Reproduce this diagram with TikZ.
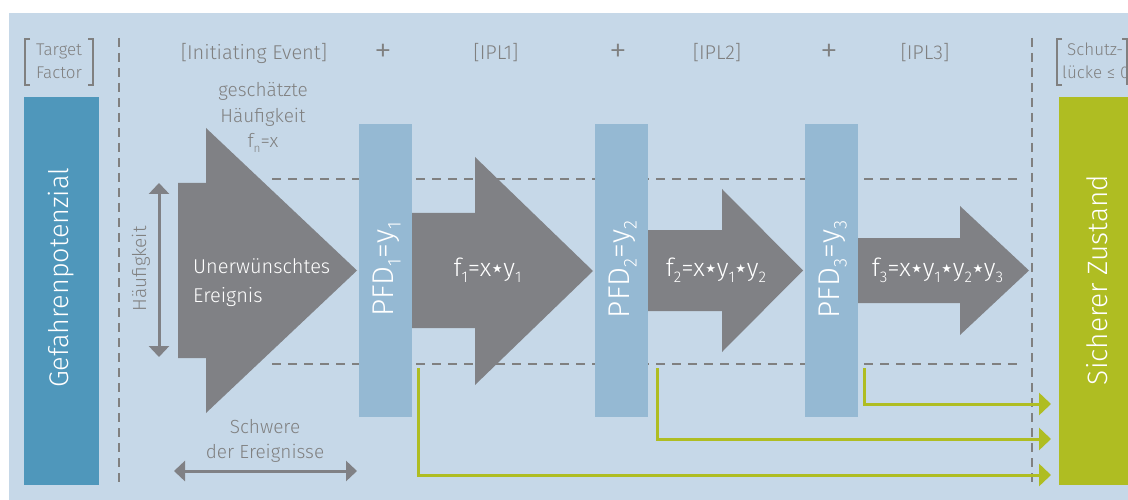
\documentclass[tikz,border=0pt]{standalone}
\usepackage{fontspec}
\setmainfont{Fira Sans}[UprightFont=* Light]
\newfontfamily\symfont{DejaVu Sans}
\usetikzlibrary{arrows.meta}
\definecolor{bgblue}{RGB}{198,216,232}
\definecolor{darkblue}{RGB}{79,151,187}
\definecolor{pfdblue}{RGB}{149,185,211}
\definecolor{arrowgray}{RGB}{128,129,133}
\definecolor{txtgray}{RGB}{128,128,128}
\definecolor{safegreen}{RGB}{175,189,34}
\newcommand{\lsub}[1]{\raisebox{-0.25em}{\scalebox{0.62}{#1}}}
\newcommand{\mstar}{\makebox[0.48em]{\symfont\scalebox{0.95}{⋆}}}
\tikzset{
  vdash/.style={txtgray, line width=2.5pt, dash pattern=on 9pt off 6pt},
  hdash/.style={txtgray, line width=2pt, dash pattern=on 9pt off 7pt},
  bigarrow/.style={fill=arrowgray, draw=none},
  bar/.style={inner sep=0pt, outer sep=0pt, draw=none},
  graytext/.style={text=txtgray, font=\fontsize{19}{23}\selectfont, inner sep=0pt},
  headtext/.style={text=txtgray, font=\fontsize{20}{24}\selectfont, inner sep=0pt, anchor=base},
  plustext/.style={text=txtgray, font=\fontsize{36}{38}\selectfont, inner sep=0pt},
  whitetext/.style={text=white, inner sep=0pt},
  pfdtext/.style={text=white, inner sep=0pt, rotate=90, anchor=base, font=\fontsize{30}{32}\selectfont},
  ftext/.style={text=white, inner sep=0pt, anchor=base, font=\fontsize{25}{28}\selectfont},
  bracket/.style={txtgray, line width=2pt},
  dblarrow/.style={arrowgray, line width=3pt, {Triangle[length=11pt,width=20pt]}-{Triangle[length=11pt,width=20pt]}},
  greenarrow/.style={safegreen, line width=3pt, -{Triangle[length=12pt,width=22pt]}}
}
\begin{document}
\begin{tikzpicture}[x=1pt,y=-1pt]
\useasboundingbox (0,0) rectangle (1128,500);
\clip (0,0) rectangle (1128,500);
\fill[white] (0,0) rectangle (1128,500);
\fill[bgblue] (9,13) rectangle (1140,510);

% dashed guides
\draw[vdash] (119,38) -- (119,486);
\draw[vdash] (1032,38) -- (1032,486);
\draw[hdash] (272,179) -- (1023,179);
\draw[hdash] (272,364) -- (1023,364);

% big arrows
\fill[bigarrow] (178,183) -- (206,183) -- (206,128) -- (357,270.5) -- (206,413) -- (206,358) -- (178,358) -- cycle;
\fill[bigarrow] (412,213) -- (475,213) -- (475,157) -- (593,271) -- (475,385) -- (475,328) -- (412,328) -- cycle;
\fill[bigarrow] (648,230) -- (722,230) -- (722,189) -- (803,270.5) -- (722,352) -- (722,311) -- (648,311) -- cycle;
\fill[bigarrow] (858,238) -- (960,238) -- (960,206) -- (1029,270.5) -- (960,335) -- (960,303) -- (858,303) -- cycle;

% left and right boxes
\node[bar, fill=darkblue, minimum width=75pt, minimum height=388pt] (gef) at (61.5,291) {};
\node[whitetext, rotate=90, font=\fontsize{27}{30}\selectfont] (geftext) at (61,278) {Gefahrenpotenzial};
\node[bar, fill=safegreen, minimum width=90pt, minimum height=388pt, anchor=north west] (safe) at (1059,97) {};
\node[whitetext, rotate=90, font=\fontsize{28}{30}\selectfont] (safetext) at (1097,280) {Sicherer Zustand};

% PFD bars
\node[bar, fill=pfdblue, minimum width=53pt, minimum height=293pt] (pfd1) at (385.5,270.5) {};
\node[bar, fill=pfdblue, minimum width=53pt, minimum height=293pt] (pfd2) at (621.5,270.5) {};
\node[bar, fill=pfdblue, minimum width=53pt, minimum height=293pt] (pfd3) at (831.5,270.5) {};
\node[pfdtext] (pfd1t) at (393,269.5) {PFD\lsub{1}=y\lsub{1}};
\node[pfdtext] (pfd2t) at (629,269.5) {PFD\lsub{2}=y\lsub{2}};
\node[pfdtext] (pfd3t) at (839,269.5) {PFD\lsub{3}=y\lsub{3}};

% arrow labels
\node[whitetext, font=\fontsize{20}{24}\selectfont, anchor=base west] (ue1) at (193,273) {Unerwünschtes};
\node[whitetext, font=\fontsize{20}{24}\selectfont, anchor=base west] (ue2) at (193,302) {Ereignis};
\node[ftext] (f1) at (487.5,276) {f\lsub{1}=x\mstar y\lsub{1}};
\node[ftext] (f2) at (716,276) {f\lsub{2}=x\mstar y\lsub{1}\mstar y\lsub{2}};
\node[ftext] (f3) at (937.5,276) {f\lsub{3}=x\mstar y\lsub{1}\mstar y\lsub{2}\mstar y\lsub{3}};

% header
\draw[bracket] (30,39) -- (25,39) -- (25,85) -- (30,85);
\draw[bracket] (88,39) -- (93,39) -- (93,85) -- (88,85);
\node[graytext, font=\fontsize{17}{20}\selectfont, anchor=base] (tf1) at (59,56) {Target};
\node[graytext, font=\fontsize{17}{20}\selectfont, anchor=base] (tf2) at (59,79) {Factor};
\node[headtext] (ie) at (254,60) {[Initiating Event]};
\node[plustext] (p1) at (383,53) {+};
\node[headtext] (ipl1) at (496,60) {[IPL1]};
\node[plustext] (p2) at (618,53) {+};
\node[headtext] (ipl2) at (717,60) {[IPL2]};
\node[plustext] (p3) at (829,53) {+};
\node[headtext] (ipl3) at (925,60) {[IPL3]};
\draw[bracket] (1062,39) -- (1057,39) -- (1057,85) -- (1062,85);
\draw[bracket] (1122,39) -- (1127,39) -- (1127,85);
\node[graytext, font=\fontsize{17}{20}\selectfont, anchor=base west] (sl1) at (1067,56) {Schutz-};
\node[graytext, font=\fontsize{17}{20}\selectfont, anchor=base west] (sl2) at (1062,79) {lücke ≤ 0};

% side labels
\node[graytext, anchor=base] (gh1) at (263,97) {geschätzte};
\node[graytext, anchor=base] (gh2) at (263,123) {Häufigkeit};
\node[graytext, anchor=base] (gh3) at (263,148) {f\lsub{n}=x};
\node[graytext, anchor=base] (sw1) at (265,433) {Schwere};
\node[graytext, anchor=base] (sw2) at (265,458) {der Ereignisse};
\node[graytext, rotate=90] (hf) at (141,269) {Häufigkeit};

% double arrows
\coordinate (vtop) at (159,183);
\coordinate (vbot) at (159,357);
\coordinate (hl) at (174,471);
\coordinate (hr) at (357,471);
\draw[dblarrow] (vtop) -- (vbot);
\draw[dblarrow] (hl) -- (hr);

% green connectors
\coordinate (g1s) at (418,368);
\coordinate (g1e) at (1051,475);
\coordinate (g2s) at (657,368);
\coordinate (g2e) at (1051,439);
\coordinate (g3s) at (864,368);
\coordinate (g3e) at (1051,404);
\draw[greenarrow] (g1s) |- (g1e);
\draw[greenarrow] (g2s) |- (g2e);
\draw[greenarrow] (g3s) |- (g3e);
\end{tikzpicture}
\end{document}
